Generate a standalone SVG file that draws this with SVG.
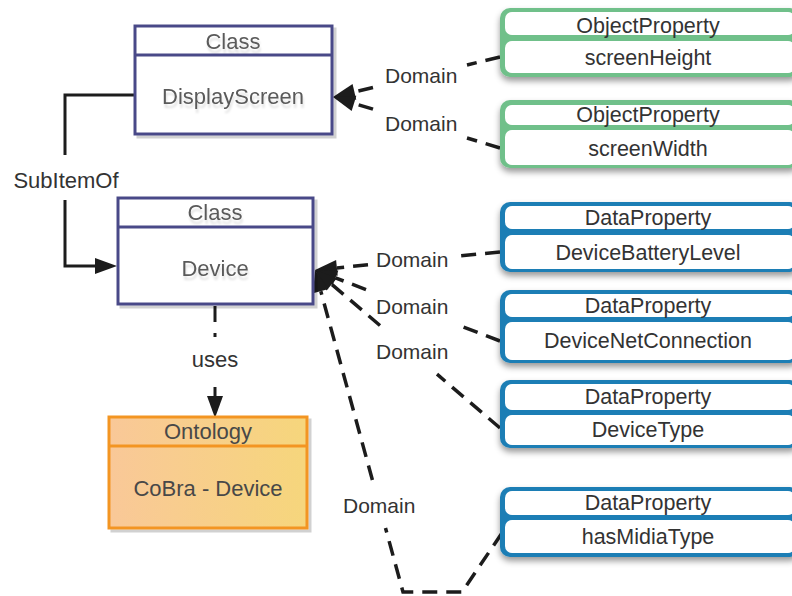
<svg xmlns="http://www.w3.org/2000/svg" width="792" height="596" viewBox="0 0 792 596">
  <defs>
    <style>
      text { font-family: "Liberation Sans", Arial, sans-serif; }
      .cls { fill: #fff; stroke: #4a4a88; stroke-width: 3; }
      .div { stroke: #4a4a88; stroke-width: 3; }
      .ont { fill: url(#orangeFill); stroke: #f39524; stroke-width: 3; }
      .odiv { stroke: #f39524; stroke-width: 3; }
      .ctext { font-size: 22px; fill: #5a5a5a; text-anchor: middle; }
      .ptext { font-size: 21.5px; fill: #333; text-anchor: middle; }
      .lbl { font-size: 21px; fill: #333; }
      .dash { fill: none; stroke: #1c1c1c; stroke-width: 3.5; stroke-dasharray: 15 9; }
      .solid { fill: none; stroke: #1c1c1c; stroke-width: 3; }
      .inner { fill: #fff; }
      .green { fill: #70c08a; }
      .blue { fill: #1f7eb5; }
    </style>
    <linearGradient id="orangeFill" x1="0" y1="0" x2="1" y2="0">
      <stop offset="0" stop-color="#f9c898"/>
      <stop offset="1" stop-color="#f6d67c"/>
    </linearGradient>
    <filter id="boxShadow" x="-5%" y="-10%" width="115%" height="130%">
      <feDropShadow dx="3" dy="3" stdDeviation="0.6" flood-color="#000" flood-opacity="0.18"/>
    </filter>
    <filter id="textGhost" x="-5%" y="-20%" width="110%" height="160%">
      <feDropShadow dx="1" dy="4" stdDeviation="0.8" flood-color="#000" flood-opacity="0.12"/>
    </filter>
    <filter id="propShadow" x="-5%" y="-10%" width="115%" height="140%">
      <feDropShadow dx="0" dy="4" stdDeviation="3" flood-color="#000" flood-opacity="0.4"/>
    </filter>
    <marker id="arrow" markerUnits="userSpaceOnUse" markerWidth="24" markerHeight="18"
            refX="0" refY="8" orient="auto" overflow="visible">
      <path d="M0,0 L22,8 L0,16 z" fill="#1c1c1c"/>
    </marker>
  </defs>

  <!-- connectors -->
  <g id="connectors">
    <!-- SubItemOf: DisplayScreen -> Device -->
    <path class="solid" d="M135,95 H65 V155"/>
    <path class="solid" d="M65,200 V266 H95" marker-end="url(#arrow)"/>
    <text class="lbl" x="66" y="188" text-anchor="middle" style="font-size:22px">SubItemOf</text>

    <!-- uses: Device -> Ontology -->
    <path class="solid" d="M215,306 V322"/>
    <rect x="213.5" y="333" width="3" height="4" fill="#1c1c1c"/>
    <text class="lbl" x="215" y="367" text-anchor="middle" style="font-size:22px">uses</text>
    <path class="solid" d="M215,387 V396" marker-end="url(#arrow)"/>

    <!-- Domain: screenHeight -> DisplayScreen -->
    <path class="dash" d="M500,57 L467,65"/>
    <path class="dash" d="M373,87.5 L354.4,91.9" marker-end="url(#arrow)"/>
    <text class="lbl" x="385" y="83">Domain</text>

    <!-- Domain: screenWidth -> DisplayScreen -->
    <path class="dash" d="M500,148 L467,138"/>
    <path class="dash" d="M373,109.2 L354,103.4" marker-end="url(#arrow)"/>
    <text class="lbl" x="385" y="131">Domain</text>

    <!-- Domain: DeviceBatteryLevel -> Device -->
    <path class="dash" d="M500,252 L460,255.9"/>
    <path class="dash" d="M368,264.8 L336.9,267.9" marker-end="url(#arrow)"/>
    <text class="lbl" x="376" y="267">Domain</text>

    <!-- Domain: DeviceNetConnection -> Device -->
    <path class="dash" d="M500,341 L463,326.8"/>
    <path class="dash" d="M366,289.6 L335.5,277.9" marker-end="url(#arrow)"/>
    <text class="lbl" x="376" y="314">Domain</text>

    <!-- Domain: DeviceType -> Device -->
    <path class="dash" d="M500,428 L437,374.2"/>
    <path class="dash" d="M380,325.5 L331.7,284.3" marker-end="url(#arrow)"/>
    <text class="lbl" x="376" y="359">Domain</text>

    <!-- Domain: hasMidiaType -> Device -->
    <path class="dash" d="M502,533 L462,592 L403,592 L385.5,528"/>
    <path class="dash" d="M372.4,480 L320.8,291.2" marker-end="url(#arrow)"/>
    <text class="lbl" x="343" y="513">Domain</text>
  </g>

  <!-- class DisplayScreen -->
  <g id="displayscreen">
    <g filter="url(#boxShadow)">
      <rect class="cls" x="135" y="26" width="197" height="108"/>
      <line class="div" x1="135" y1="55" x2="332" y2="55"/>
    </g>
    <g filter="url(#textGhost)">
      <text class="ctext" x="233" y="49">Class</text>
      <text class="ctext" x="233" y="104">DisplayScreen</text>
    </g>
  </g>

  <!-- class Device -->
  <g id="device">
    <g filter="url(#boxShadow)">
      <rect class="cls" x="118" y="198" width="195" height="106"/>
      <line class="div" x1="118" y1="227" x2="313" y2="227"/>
    </g>
    <g filter="url(#textGhost)">
      <text class="ctext" x="215" y="220">Class</text>
      <text class="ctext" x="215" y="276">Device</text>
    </g>
  </g>

  <!-- ontology CoBra - Device -->
  <g id="ontology">
    <g filter="url(#boxShadow)">
      <rect class="ont" x="109" y="417" width="198" height="111"/>
      <line class="odiv" x1="109" y1="446" x2="307" y2="446"/>
    </g>
    <text class="ctext" x="208" y="439" style="fill:#484848">Ontology</text>
    <text class="ctext" x="208" y="496" style="fill:#484848">CoBra - Device</text>
  </g>

  <!-- object property screenHeight -->
  <g id="screenHeight">
    <g filter="url(#propShadow)">
      <rect class="green" x="500" y="8" width="300" height="69" rx="10"/>
    </g>
    <rect class="inner" x="505" y="12" width="290" height="23" rx="7"/>
    <rect class="inner" x="505" y="41" width="290" height="32" rx="7"/>
    <text class="ptext" x="648" y="33">ObjectProperty</text>
    <text class="ptext" x="648" y="65">screenHeight</text>
  </g>

  <!-- object property screenWidth -->
  <g id="screenWidth">
    <g filter="url(#propShadow)">
      <rect class="green" x="500" y="100" width="300" height="68" rx="10"/>
    </g>
    <rect class="inner" x="505" y="105" width="290" height="20" rx="7"/>
    <rect class="inner" x="505" y="130" width="290" height="35" rx="7"/>
    <text class="ptext" x="648" y="122">ObjectProperty</text>
    <text class="ptext" x="648" y="156">screenWidth</text>
  </g>

  <!-- data property DeviceBatteryLevel -->
  <g id="deviceBatteryLevel">
    <g filter="url(#propShadow)">
      <rect class="blue" x="500" y="202" width="300" height="70" rx="10"/>
    </g>
    <rect class="inner" x="505" y="206" width="290" height="23" rx="7"/>
    <rect class="inner" x="505" y="235" width="290" height="34" rx="7"/>
    <text class="ptext" x="648" y="225">DataProperty</text>
    <text class="ptext" x="648" y="260">DeviceBatteryLevel</text>
  </g>

  <!-- data property DeviceNetConnection -->
  <g id="deviceNetConnection">
    <g filter="url(#propShadow)">
      <rect class="blue" x="500" y="290" width="300" height="73" rx="10"/>
    </g>
    <rect class="inner" x="505" y="294" width="290" height="23" rx="7"/>
    <rect class="inner" x="505" y="322" width="290" height="38" rx="7"/>
    <text class="ptext" x="648" y="313">DataProperty</text>
    <text class="ptext" x="648" y="348">DeviceNetConnection</text>
  </g>

  <!-- data property DeviceType -->
  <g id="deviceType">
    <g filter="url(#propShadow)">
      <rect class="blue" x="500" y="380" width="300" height="68" rx="10"/>
    </g>
    <rect class="inner" x="505" y="384" width="290" height="26" rx="7"/>
    <rect class="inner" x="505" y="415" width="290" height="30" rx="7"/>
    <text class="ptext" x="648" y="404">DataProperty</text>
    <text class="ptext" x="648" y="437">DeviceType</text>
  </g>

  <!-- data property hasMidiaType -->
  <g id="hasMidiaType">
    <g filter="url(#propShadow)">
      <rect class="blue" x="500" y="487" width="300" height="70" rx="10"/>
    </g>
    <rect class="inner" x="505" y="491" width="290" height="24" rx="7"/>
    <rect class="inner" x="505" y="520" width="290" height="33" rx="7"/>
    <text class="ptext" x="648" y="510">DataProperty</text>
    <text class="ptext" x="648" y="544">hasMidiaType</text>
  </g>
</svg>
